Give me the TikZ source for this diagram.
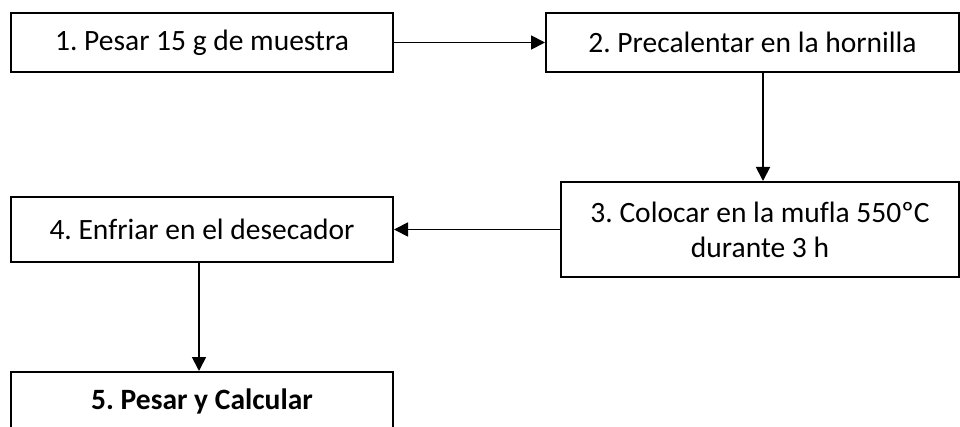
\documentclass[tikz,border=0pt]{standalone}
\usepackage{fontspec}
\setmainfont{Carlito}[Ligatures=NoCommon]
\usetikzlibrary{arrows.meta}
\frenchspacing
\begin{document}
\begin{tikzpicture}[x=1pt,y=-1pt,
  boxnode/.style={draw, line width=2pt, rectangle, inner sep=0pt, align=center,
    font=\fontsize{29.5}{35}\selectfont\frenchspacing},
  arr/.style={line width=1.8pt, -{Triangle[length=14pt,width=14pt]}}]
\useasboundingbox (0,0) rectangle (960,427);
\clip (0,0) rectangle (960,427);
\fill[white] (0,0) rectangle (960,427);
\node[boxnode, minimum width=382pt, minimum height=59pt] (b1) at (202,42.5) {1. Pesar 15 g de muestra};
\node[boxnode, minimum width=413pt, minimum height=59pt] (b2) at (752.5,42.5) {2. Precalentar en la hornilla};
\node[boxnode, minimum width=398pt, minimum height=95pt] (b3) at (760,229.5) {3. Colocar en la mufla 550ºC\\durante 3 h};
\node[boxnode, minimum width=382pt, minimum height=65pt] (b4) at (202,229.5) {4. Enfriar en el desecador};
\node[boxnode, minimum width=382pt, minimum height=58pt] (b5) at (202,401) {\bfseries 5. Pesar y Calcular};
\draw[arr] (b1.east) -- (b2.west);
\draw[arr] ([xshift=10.5pt]b2.south) -- ([xshift=3pt]b3.north);
\draw[arr] (b3.west) -- (b4.east);
\draw[arr] ([xshift=-3pt]b4.south) -- ([xshift=-3pt]b5.north);
\end{tikzpicture}
\end{document}
